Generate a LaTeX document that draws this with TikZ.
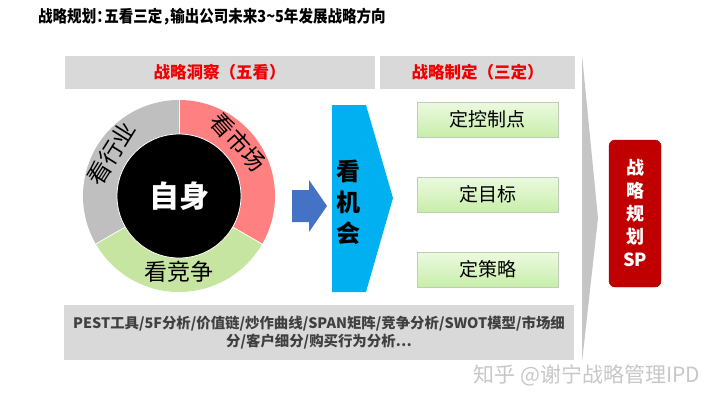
\documentclass[tikz,border=0pt]{standalone}
\usepackage{fontspec}
\setmainfont{Noto Sans CJK SC}
\usetikzlibrary{calc}
\definecolor{barGray}{RGB}{217,217,217}
\definecolor{hdRed}{RGB}{240,0,0}
\definecolor{mktRed}{RGB}{255,128,128}
\definecolor{indGray}{RGB}{191,191,191}
\definecolor{cmpGreen}{RGB}{197,229,160}
\definecolor{arrBlue}{RGB}{68,114,196}
\definecolor{chanceCyan}{RGB}{0,176,240}
\definecolor{boxTop}{RGB}{236,250,224}
\definecolor{boxBot}{RGB}{200,238,170}
\definecolor{boxEdge}{RGB}{190,205,180}
\definecolor{spRed}{RGB}{192,0,0}
\definecolor{toolText}{RGB}{64,64,64}
\newcommand{\halfpunct}[1]{#1\hspace{-0.45em}}
\begin{document}
\begin{tikzpicture}[x=1pt,y=1pt,
  bar/.style={fill=barGray,inner sep=0pt,text=hdRed,font=\fontsize{16.5}{18}\selectfont\bfseries},
  dingbox/.style={draw=boxEdge,top color=boxTop,bottom color=boxBot,minimum width=141pt,minimum height=35pt,inner sep=0pt,font=\fontsize{19}{21}\selectfont},
  ringtext/.style={font=\fontsize{23}{25}\selectfont}]
\useasboundingbox (0,0) rectangle (720,-405);
% title
\node [anchor=west,inner sep=0pt,font=\fontsize{16.5}{18}\selectfont\bfseries] (title) at (38,-17)
  {\scalebox{0.88}[1]{战略规划\halfpunct{：}五看三定\halfpunct{，}输出公司未来3\textasciitilde5年发展战略方向}};
% header bars
\node [bar,minimum width=310pt,minimum height=33pt] (insight) at (219.5,-72) {战略洞察（五看）};
\node [bar,minimum width=195pt,minimum height=33pt] (define) at (477.5,-72) {战略制定（三定）};
% big grey chevron edge
\fill [indGray!90] (582,-55) -- (598,-218) -- (582,-362) -- cycle;
% donut
\coordinate (c) at (179,-196);
\fill [mktRed] (c) -- ++(90:96) arc [start angle=90,end angle=-30,radius=96] -- cycle;
\fill [cmpGreen] (c) -- ++(-30:96) arc [start angle=-30,end angle=-150,radius=96] -- cycle;
\fill [indGray] (c) -- ++(210:96) arc [start angle=210,end angle=90,radius=96] -- cycle;
\foreach \a in {90,-30,210}
  \draw [white,thick] (c) -- ++(\a:96);
\draw [white,thick,fill=black] (c) circle (62);
\node [text=white,font=\fontsize{30}{32}\selectfont\bfseries] (self) at (c) {自身};
\node [ringtext,rotate=58,inner sep=0pt] (industry) at ($(c)+(148:80)$) {看行业};
\node [ringtext,rotate=-48,inner sep=0pt] (market) at ($(c)+(42:80)$) {看市场};
\node [ringtext,inner sep=0pt] (compete) at ($(c)+(270:76)$) {看竞争};
% blue arrow
\fill [arrBlue] (292,-190) -- (309,-190) -- (309,-180) -- (327,-206) -- (309,-232) -- (309,-222) -- (292,-222) -- cycle;
% chance chevron
\fill [chanceCyan] (332,-105) -- (366,-105) -- (393,-198) -- (366,-292) -- (332,-292) -- cycle;
\node [align=center,font=\fontsize{24}{31}\selectfont\bfseries] (chance) at (348,-202) {看\\机\\会};
% three boxes
\node [dingbox] (ctrl) at (487.5,-119.5) {定控制点};
\node [dingbox] (goal) at (487.5,-194.5) {定目标};
\node [dingbox] (strat) at (487.5,-269.5) {定策略};
% SP box
\node [fill=spRed,draw=spRed!80!black,rounded corners=6pt,minimum width=52pt,minimum height=147pt,inner sep=0pt,
  align=center,text=white,font=\fontsize{18}{23}\selectfont\bfseries] (sp) at (635,-213.5) {战\\略\\规\\划\\SP};
% tools bar
\node [fill=barGray,minimum width=510pt,minimum height=55pt,inner sep=0pt,align=center,text=toolText,
  font=\fontsize{14.4}{18}\selectfont\bfseries] (tools) at (319,-332.5)
  {PEST工具/5F分析/价值链/炒作曲线/SPAN矩阵/竞争分析/SWOT模型/市场细\\分/客户细分/购买行为分析…};
% watermark
\node [text=black!22,font=\fontsize{21}{23}\selectfont] (mark) at (587,-375) {知乎 @谢宁战略管理IPD};
\end{tikzpicture}
\end{document}
